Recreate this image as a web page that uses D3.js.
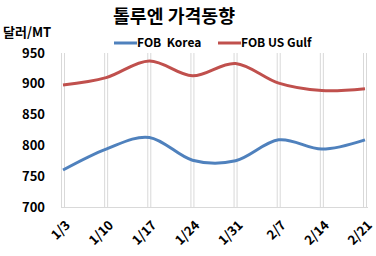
<!DOCTYPE html>
<html>
<head>
<meta charset="utf-8">
<script src="https://cdn.jsdelivr.net/npm/d3@7"></script>
<style>
body { margin: 0; background: #fff; }
text { font-family: 'Noto Sans CJK KR', 'Noto Sans', sans-serif; font-weight: bold; fill: #000; }
</style>
</head>
<body>
<svg id="chart"></svg>
<script>
'use strict';
//Chart data.
const dates = ['1/3', '1/10', '1/17', '1/24', '1/31', '2/7', '2/14', '2/21'];
const korea = [760, 794, 813, 776, 775, 809, 794, 809];
const usGulf = [898, 910, 937, 913, 933, 901, 889, 892];
const yTicks = [700, 750, 800, 850, 900, 950];
const seriesNames = ['FOB  Korea', 'FOB US Gulf'];
const colors = ['#4F81BD', '#C0504D'];

const W = 376, H = 256;
const svg = d3.select('#chart').attr('width', W).attr('height', H);

const x = d3.scalePoint().domain(dates).range([63, 365]);
const y = d3.scaleLinear().domain([700, 950]).range([207, 53]);

//Vertical gridlines, drawn in pairs like the original.
dates.forEach(d => {
	[-1.5, 1.5].forEach(off => {
		svg.append('line')
			.attr('x1', x(d) + off).attr('x2', x(d) + off)
			.attr('y1', y(950)).attr('y2', y(700))
			.style('stroke', '#d9d9d9')
			.style('stroke-width', '1px');
	});
});
//Bottom axis line.
svg.append('line')
	.attr('x1', 61).attr('x2', 368)
	.attr('y1', y(700) + 0.5).attr('y2', y(700) + 0.5)
	.style('stroke', '#d9d9d9');

//Y tick labels.
svg.selectAll('text.ytick').data(yTicks).enter().append('text')
	.attr('class', 'ytick')
	.attr('x', 45)
	.attr('y', d => y(d))
	.attr('dy', '0.35em')
	.attr('text-anchor', 'end')
	.style('font-size', '13px')
	.text(d => d);

//X tick labels, rotated.
svg.selectAll('text.xtick').data(dates).enter().append('text')
	.attr('class', 'xtick')
	.attr('text-anchor', 'end')
	.attr('transform', d => `translate(${x(d) + 8},${y(700) + 19}) rotate(-45)`)
	.style('font-size', '13px')
	.text(d => d);

//Lines.
const line = d3.line()
	.x((d, i) => x(dates[i]))
	.y(d => y(d))
	.curve(d3.curveCardinal.tension(0));
[korea, usGulf].forEach((s, i) => {
	svg.append('path')
		.datum(s)
		.attr('d', line)
		.style('fill', 'none')
		.style('stroke', colors[i])
		.style('stroke-width', '3px');
});

//Title and unit.
svg.append('text')
	.attr('x', 113).attr('y', 23)
	.attr('textLength', 122)
	.attr('lengthAdjust', 'spacingAndGlyphs')
	.style('font-size', '18px')
	.text('톨루엔 가격동향');
svg.append('text')
	.attr('x', 3).attr('y', 37)
	.style('font-size', '13px')
	.text('달러/MT');

//Legend.
const legX = [114, 218];
seriesNames.forEach((n, i) => {
	svg.append('line')
		.attr('x1', legX[i]).attr('x2', legX[i] + 23)
		.attr('y1', 43).attr('y2', 43)
		.style('stroke', colors[i])
		.style('stroke-width', '3px');
	svg.append('text')
		.attr('x', legX[i] + 23).attr('y', 43)
		.attr('dy', '0.35em')
		.style('font-size', '12px')
		.style('white-space', 'pre')
		.text(n);
});
</script>
</body>
</html>
